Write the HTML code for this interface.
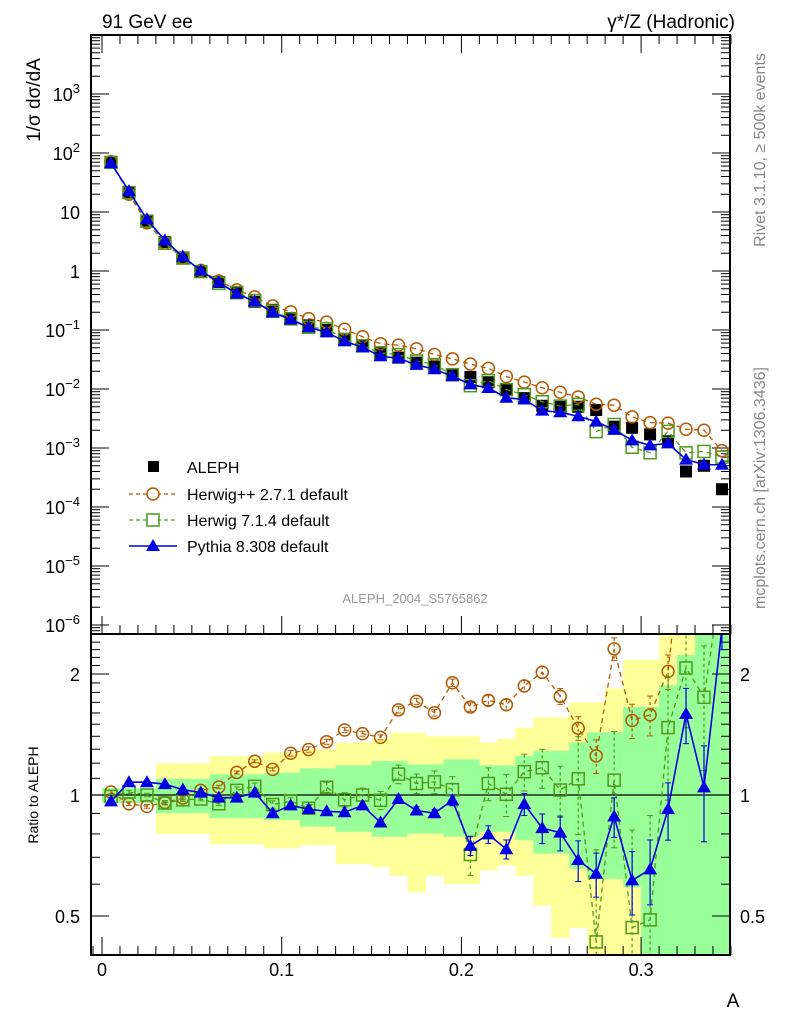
<!DOCTYPE html>
<html><head><meta charset="utf-8"><style>
html,body{margin:0;padding:0;background:#fff;width:786px;height:1024px;overflow:hidden;}
svg{display:block;font-family:"Liberation Sans",sans-serif;}
</style></head><body>
<svg id="chart" width="786" height="1024" viewBox="0 0 786 1024" xmlns="http://www.w3.org/2000/svg">
<g id="bands"></g>
<g id="ticks"></g>
<g id="series"></g>
<rect x="91" y="35" width="639" height="599" fill="none" stroke="#000" stroke-width="2"/>
<rect x="91" y="634" width="639" height="321" fill="none" stroke="#000" stroke-width="2"/>
<text x="102" y="28" font-size="19">91 GeV ee</text>
<text x="735" y="28" font-size="19" text-anchor="end">γ*/Z (Hadronic)</text>
<text transform="translate(40,100) rotate(-90)" font-size="19" text-anchor="middle">1/σ  dσ/dA</text>
<text transform="translate(38,795) rotate(-90)" font-size="14" text-anchor="middle">Ratio to ALEPH</text>
<text x="733" y="1007" font-size="19" text-anchor="middle">A</text>
<text transform="translate(765,150) rotate(-90)" font-size="16" fill="#888" text-anchor="middle">Rivet 3.1.10, ≥ 500k events</text>
<text transform="translate(765,488) rotate(-90)" font-size="16" fill="#888" text-anchor="middle">mcplots.cern.ch [arXiv:1306.3436]</text>
<text x="415" y="603" font-size="13" fill="#999" text-anchor="middle">ALEPH_2004_S5765862</text>
<g>
<rect x="148" y="461" width="11" height="11" fill="#000"/>
<text x="187" y="473" font-size="16">ALEPH</text>
<line x1="129" y1="494" x2="177" y2="494" stroke="#b35900" stroke-width="1.3" stroke-dasharray="4,3"/>
<circle cx="153" cy="494" r="6" fill="#fff" stroke="#b35900" stroke-width="1.5"/>
<text x="187" y="500" font-size="16">Herwig++ 2.7.1 default</text>
<line x1="129" y1="520" x2="177" y2="520" stroke="#4c9a1a" stroke-width="1.3" stroke-dasharray="4,3"/>
<rect x="147" y="514" width="12" height="12" fill="#fff" stroke="#4c9a1a" stroke-width="1.5"/>
<text x="187" y="526" font-size="16">Herwig 7.1.4 default</text>
<line x1="129" y1="546" x2="177" y2="546" stroke="#0000e0" stroke-width="1.5"/>
<polygon points="153,539 160,551 146,551" fill="#0000e0"/>
<text x="187" y="552" font-size="16">Pythia 8.308 default</text>
</g>
</svg>
<script>
const binCenters=[0.005,0.015,0.025,0.035,0.045,0.055,0.065,0.075,0.085,0.095,0.105,0.115,0.125,0.135,0.145,0.155,0.165,0.175,0.185,0.195,0.205,0.215,0.225,0.235,0.245,0.255,0.265,0.275,0.285,0.295,0.305,0.315,0.325,0.335,0.345];
const alephValues=[70,21,7,3.1,1.7,1.0,0.65,0.42,0.30,0.22,0.16,0.12,0.10,0.071,0.054,0.042,0.034,0.028,0.024,0.017,0.016,0.013,0.0097,0.007,0.0052,0.005,0.005,0.0044,0.0023,0.0022,0.0017,0.0013,0.0004,0.0005,0.0002];
const bandYellowUp=[1.02,1.02,1.02,1.20,1.20,1.20,1.25,1.25,1.25,1.275,1.275,1.30,1.30,1.35,1.35,1.38,1.43,1.43,1.40,1.40,1.40,1.35,1.38,1.47,1.56,1.56,1.70,1.70,1.84,2.17,2.17,3,3,3,3];
const bandYellowDown=[0.977,0.977,0.977,0.80,0.80,0.80,0.754,0.754,0.754,0.736,0.736,0.75,0.75,0.674,0.674,0.662,0.63,0.573,0.63,0.60,0.60,0.649,0.668,0.63,0.53,0.441,0.467,0.35,0.35,0.35,0.35,0.35,0.35,0.35,0.35];
const bandGreenUp=[1.04,1.04,1.04,1.097,1.097,1.097,1.125,1.125,1.125,1.136,1.136,1.165,1.165,1.185,1.185,1.215,1.215,1.192,1.192,1.227,1.227,1.185,1.185,1.251,1.288,1.288,1.352,1.432,1.432,1.655,1.655,1.876,2.23,3,3];
const bandGreenDown=[0.955,0.955,0.955,0.901,0.901,0.901,0.875,0.875,0.875,0.867,0.867,0.834,0.834,0.81,0.81,0.787,0.787,0.802,0.802,0.787,0.787,0.81,0.81,0.772,0.715,0.715,0.655,0.618,0.618,0.589,0.35,0.35,0.35,0.35,0.35];
const ratioHerwigpp=[1.017,0.951,0.937,0.958,0.983,1.027,1.047,1.138,1.213,1.158,1.27,1.298,1.357,1.451,1.421,1.391,1.629,1.711,1.602,1.902,1.655,1.72,1.677,1.868,2.02,1.76,1.466,1.251,2.31,1.532,1.583,2.03,5.2,4.0,4.5];
const errHerwigpp=[0.01,0.01,0.01,0.01,0.01,0.01,0.01,0.01,0.01,0.01,0.02,0.02,0.02,0.02,0.02,0.02,0.03,0.03,0.03,0.04,0.04,0.05,0.05,0.06,0.07,0.08,0.1,0.12,0.15,0.15,0.18,0.2,0.3,0.3,0.3];
const ratioHerwig7=[0.992,1.017,1.0,0.955,0.973,0.977,0.951,1.027,1.051,0.947,0.964,0.927,1.045,0.973,1.0,0.97,1.127,1.068,1.078,1.031,0.711,1.068,1.004,1.143,1.169,1.029,1.097,0.431,1.089,0.468,0.489,1.471,2.07,1.75,3.5];
const errHerwig7=[0.01,0.01,0.01,0.01,0.01,0.01,0.01,0.02,0.02,0.02,0.02,0.02,0.03,0.04,0.04,0.05,0.06,0.06,0.07,0.08,0.08,0.1,0.12,0.12,0.13,0.15,0.3,0.3,0.35,0.35,0.4,0.5,0.6,0.6,0.6];
const ratioPythia=[0.964,1.076,1.076,1.064,1.031,1.014,0.985,0.985,1.014,0.901,0.942,0.922,0.911,0.906,0.942,0.854,0.977,0.915,0.901,0.97,0.747,0.798,0.733,0.949,0.827,0.806,0.689,0.637,0.884,0.613,0.653,0.922,1.592,1.045,2.6];
const errPythia=[0.01,0.01,0.01,0.01,0.01,0.01,0.01,0.01,0.01,0.01,0.01,0.01,0.01,0.01,0.01,0.01,0.02,0.02,0.02,0.03,0.04,0.04,0.04,0.06,0.07,0.08,0.08,0.08,0.1,0.11,0.12,0.15,0.25,0.28,0.3];
const xTickLabels=["0","0.1","0.2","0.3"];
const yMainExponents=[-6,-5,-4,-3,-2,-1,0,1,2,3];
const ratioTickValues=[0.5,1,2];

const NS="http://www.w3.org/2000/svg";
const L=91,R=730,MT=35,MB=634,RT=634,RB=955;
const X=v=>102+1797*v;
const YM=v=>271-59*Math.log10(v);
const YR=r=>795-121*Math.log2(r);
const clampR=y=>Math.max(RT,Math.min(RB,y));
function mk(tag,attrs,parent){const e=document.createElementNS(NS,tag);for(const k in attrs)e.setAttribute(k,attrs[k]);parent.appendChild(e);return e;}
const bands=document.getElementById('bands'),ticks=document.getElementById('ticks'),series=document.getElementById('series');

binCenters.forEach((c,i)=>{
  const x0=Math.max(L,X(c-0.005)),x1=Math.min(R,X(c+0.005));
  const y1=clampR(YR(bandYellowUp[i])),y2=clampR(YR(bandYellowDown[i]));
  const r1=mk('rect',{x:x0,y:y1,width:x1-x0+0.5,height:y2-y1,fill:'#ffff99'},bands);
  
  
  const g1=clampR(YR(bandGreenUp[i])),g2=clampR(YR(bandGreenDown[i]));
  const r2=mk('rect',{x:x0,y:g1,width:x1-x0+0.5,height:g2-g1,fill:'#99ff99'},bands);
  
  
});
mk('line',{x1:L,y1:YR(1),x2:R,y2:YR(1),stroke:'#000','stroke-width':1.3},bands);

for(let k=0;k<=35;k++){
  const v=k*0.01,x=X(v),big=k%10===0,len=big?18:9;
  [[MB,-1],[MT,1],[RB,-1]].forEach(([y,d])=>mk('line',{x1:x,y1:y,x2:x,y2:y+d*len,stroke:'#000','stroke-width':1},ticks));
}
mk('line',{x1:X(-0.005),y1:RB,x2:X(-0.005),y2:RB-9,stroke:'#000'},ticks);
xTickLabels.forEach((t,i)=>{const e=mk('text',{x:X(i*0.1),y:976,'font-size':18,'text-anchor':'middle'},ticks);e.textContent=t;
  
  });
for(let e=-7;e<=3;e++){for(let m=1;m<10;m++){const y=YM(m*Math.pow(10,e));if(y<MT||y>MB)continue;const len=m===1?18:9;
  mk('line',{x1:L,y1:y,x2:L+len,y2:y,stroke:'#000'},ticks);mk('line',{x1:R,y1:y,x2:R-len,y2:y,stroke:'#000'},ticks);}}
yMainExponents.forEach(ex=>{const y=YM(Math.pow(10,ex));const t=mk('text',{x:80,y:y+7,'font-size':18,'text-anchor':'end'},ticks);
  
  
  if(ex===0)t.textContent='1';else if(ex===1)t.textContent='10';else{t.textContent='10';const s=mk('tspan',{dy:-8,'font-size':13},t);s.textContent=String(ex).replace('-','−');}});
for(let r=0.4;r<=2.5;r+=0.1){const y=YR(r);if(y<RT||y>RB)continue;const big=[0.5,1,2].some(v=>Math.abs(v-r)<1e-6);const len=big?18:9;
  mk('line',{x1:L,y1:y,x2:L+len,y2:y,stroke:'#000'},ticks);mk('line',{x1:R,y1:y,x2:R-len,y2:y,stroke:'#000'},ticks);}
ratioTickValues.forEach(r=>{const y=YR(r)+7;
  const a=mk('text',{x:80,y:y,'font-size':18,'text-anchor':'end'},ticks);a.textContent=String(r);
  
  
  const b=mk('text',{x:740,y:y,'font-size':18},ticks);b.textContent=String(r);
  
  });

const defs=mk('defs',{},series);
const cm=mk('clipPath',{id:'cm'},defs);mk('rect',{x:L,y:MT,width:R-L,height:MB-MT},cm);
const cr=mk('clipPath',{id:'cr'},defs);mk('rect',{x:L,y:RT,width:R-L,height:RB-RT},cr);
const gd=mk('g',{'clip-path':'url(#cm)'},series);
const gm=mk('g',{'clip-path':'url(#cm)'},series),gr=mk('g',{'clip-path':'url(#cr)'},series);

function marker(g,type,x,y,col){
  let e;
  if(type==='circle')e=mk('circle',{cx:x,cy:y,r:6,fill:'none',stroke:col,'stroke-width':1.5},g);
  else if(type==='square')e=mk('rect',{x:x-6,y:y-6,width:12,height:12,fill:'none',stroke:col,'stroke-width':1.5},g);
  else if(type==='tri')e=mk('polygon',{points:`${x},${y-7} ${x+7},${y+5} ${x-7},${y+5}`,fill:col},g);
  else e=mk('rect',{x:x-6,y:y-6,width:12,height:12,fill:col},g);
  return e;
}
binCenters.forEach((c,i)=>{
  const m=marker(gd,'data',X(c),YM(alephValues[i]),'#000');
  
  
});
const mcs=[
 {name:'herwigpp',r:ratioHerwigpp,err:errHerwigpp,col:'#b35900',type:'circle',dash:'5,4'},
 {name:'herwig7',r:ratioHerwig7,err:errHerwig7,col:'#4c9a1a',type:'square',dash:'5,4'},
 {name:'pythia',r:ratioPythia,err:errPythia,col:'#0000e0',type:'tri',dash:null}
];
mcs.forEach(s=>{
  const mainPts=binCenters.map((c,i)=>[X(c),YM(alephValues[i]*s.r[i])]);
  const ratPts=binCenters.map((c,i)=>[X(c),YR(s.r[i])]);
  [[gm,mainPts,'main'],[gr,ratPts,'ratio']].forEach(([g,pts,pan])=>{
    const a={points:pts.map(p=>p.join(',')).join(' '),fill:'none',stroke:s.col,'stroke-width':s.dash?1.3:1.6};
    if(s.dash)a['stroke-dasharray']=s.dash;
    const pl=mk('polyline',a,g);
    
    
  });
  binCenters.forEach((c,i)=>{
    const x=X(c);
    const y1=YR(s.r[i]+s.err[i]),y2=YR(Math.max(0.05,s.r[i]-s.err[i]));
    const ea={x1:x,y1:y1,x2:x,y2:y2,stroke:s.col,'stroke-width':1.2};if(s.dash)ea['stroke-dasharray']='3,3';
    mk('line',ea,gr);
    mk('line',{x1:x-3,y1:y1,x2:x+3,y2:y1,stroke:s.col},gr);mk('line',{x1:x-3,y1:y2,x2:x+3,y2:y2,stroke:s.col},gr);
    const m1=marker(gm,s.type,x,YM(alephValues[i]*s.r[i]),s.col);
    
    
    const m2=marker(gr,s.type,x,YR(s.r[i]),s.col);
    
    
  });
});
</script>
</body></html>
